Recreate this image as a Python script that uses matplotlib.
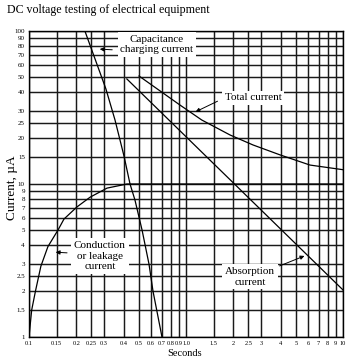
import numpy as np
import matplotlib.pyplot as plt
from matplotlib.ticker import NullLocator

plt.rcParams['font.family'] = ['Liberation Serif', 'DejaVu Serif']

# axis ticks (log-log paper)
x_ticks = [0.1, 0.15, 0.2, 0.25, 0.3, 0.4, 0.5, 0.6, 0.7, 0.8, 0.9, 1.0,
           1.5, 2, 2.5, 3, 4, 5, 6, 7, 8, 9, 10]
x_labels = ['0.1', '0.15', '0.2', '0.25', '0.3', '0.4', '0.5', '0.6', '0.7',
            '0.8', '0.9', '1.0', '1.5', '2', '2.5', '3', '4', '5', '6', '7',
            '8', '9', '10']
y_ticks = [1, 1.5, 2, 2.5, 3, 4, 5, 6, 7, 8, 9, 10, 15, 20, 25, 30, 40, 50,
           60, 70, 80, 90, 100]
y_labels = ['1', '1.5', '2', '2.5', '3', '4', '5', '6', '7', '8', '9', '10',
            '15', '20', '25', '30', '40', '50', '60', '70', '80', '90', '100']

# curves (seconds, microamps)
cap_t = [0.227, 0.309, 0.353, 0.403, 0.440, 0.473, 0.525, 0.581, 0.616, 0.703]
cap_i = [100, 41.8, 26.2, 15.2, 10, 7.86, 5.0, 3.0, 2.0, 1.0]

leak_t = [0.1, 0.104, 0.11, 0.119, 0.132, 0.153, 0.167, 0.202, 0.245, 0.314, 0.421, 10]
leak_i = [1, 1.5, 2.0, 2.9, 3.9, 5, 5.9, 7.08, 8.2, 9.4, 10, 10]

total_t = [0.502, 0.916, 1.26, 1.91, 2.67, 3.97, 6.16, 10]
total_i = [50.8, 32.8, 26.2, 20.9, 18.0, 15.5, 13.3, 12.4]

absorb_t = [0.42, 10]
absorb_i = [48.6, 2.03]

fig = plt.figure(figsize=(3.54, 3.62), dpi=100)
ax = fig.add_axes([29/354, 1-337/362, 314/354, 306/362])
ax.set_xscale('log')
ax.set_yscale('log')
ax.set_xlim(0.1, 10)
ax.set_ylim(1, 100)

ax.set_xticks(x_ticks)
ax.set_xticklabels(x_labels)
ax.set_yticks(y_ticks)
ax.set_yticklabels(y_labels)
ax.xaxis.set_minor_locator(NullLocator())
ax.yaxis.set_minor_locator(NullLocator())
ax.tick_params(length=0, labelsize=5, pad=3)
ax.tick_params(axis='x', labelsize=4.6)
ax.grid(True, color='#1a1a1a', lw=1.05)
ax.set_axisbelow(True)
for s in ax.spines.values():
    s.set_linewidth(1.0)

lk = dict(color='k', lw=0.9)
ax.plot(cap_t, cap_i, **lk)
ax.plot(leak_t, leak_i, **lk)
ax.plot(total_t, total_i, **lk)
ax.plot(absorb_t, absorb_i, **lk)

box = dict(boxstyle='square,pad=0.25', facecolor='white', edgecolor='none')
arw = dict(arrowstyle='-|>', color='k', lw=0.7, mutation_scale=6)

ax.text(0.653, 81.6, 'Capacitance\ncharging current', ha='center', va='center',
        fontsize=8, bbox=box, clip_on=False, zorder=4)
ax.annotate('', xy=(0.271, 76.3), xytext=(0.353, 75.2), arrowprops=arw, zorder=5)

ax.text(1.77, 36.5, 'Total current', ha='left', va='center', fontsize=8,
        bbox=box, zorder=4)
ax.annotate('', xy=(1.109, 29.1), xytext=(1.647, 35.4), arrowprops=arw, zorder=5)

ax.text(0.283, 3.38, 'Conduction\nor leakage\ncurrent', ha='center',
        va='center', fontsize=8, bbox=box, zorder=4)
ax.annotate('', xy=(0.142, 3.59), xytext=(0.182, 3.54), arrowprops=arw, zorder=5)

ax.text(2.56, 2.47, 'Absorption\ncurrent', ha='center', va='center',
        fontsize=8, bbox=box, zorder=4)
ax.annotate('', xy=(5.90, 3.44), xytext=(3.80, 2.87), arrowprops=arw, zorder=5)

fig.text(7/354, 1-10/362, 'DC voltage testing of electrical equipment',
         fontsize=8.6, ha='left', va='center')
fig.text(12/354, 1-188/362, 'Current, \u00b5A', rotation=90, fontsize=9.5,
         ha='center', va='center')
fig.text(185/354, 1-354/362, 'Seconds', fontsize=7.5, ha='center', va='center')

fig.savefig('out.png', dpi=100)
